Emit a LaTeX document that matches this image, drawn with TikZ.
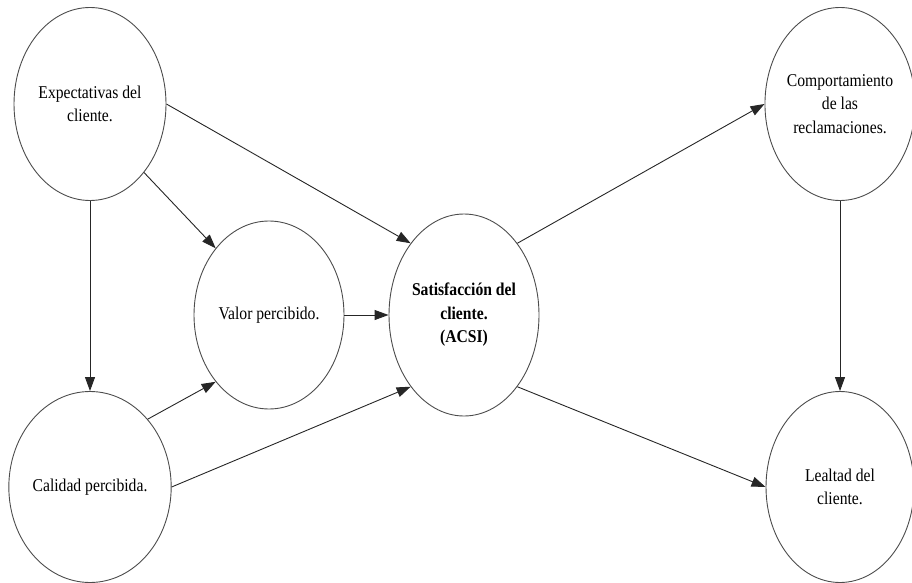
\documentclass[tikz,border=0pt]{standalone}
\usepackage{fontspec}
\setmainfont{Liberation Serif}[FakeStretch=0.87]
\usetikzlibrary{shapes.geometric,arrows.meta}
\tikzset{
  oval/.style={ellipse, draw=black!70, line width=0.9pt, inner sep=0pt, align=center,
    font=\fontsize{18}{23.5}\selectfont},
  conn/.style={draw=black!85, line width=0.9pt, -{Triangle[length=14pt,width=10pt]}}
}
\begin{document}
\begin{tikzpicture}[x=1pt,y=-1pt]
\useasboundingbox (0,0) rectangle (912,583);
\node[oval, minimum width=152pt, minimum height=193pt] (exp) at (90,104) {Expectativas del\\cliente.};
\node[oval, minimum width=152pt, minimum height=191pt] (cal) at (90,487) {Calidad percibida.};
\node[oval, minimum width=150pt, minimum height=188pt] (val) at (269,315) {Valor percibido.};
\node[oval, minimum width=150pt, minimum height=202pt, font=\fontsize{18}{23.5}\selectfont\bfseries] (sat) at (464,315) {Satisfacción del\\cliente.\\(ACSI)};
\node[oval, minimum width=148pt, minimum height=193pt] (com) at (840,104) {Comportamiento\\de las\\reclamaciones.};
\node[oval, minimum width=148pt, minimum height=191pt] (lea) at (840,487) {Lealtad del\\cliente.};
\draw[conn] (exp.south) -- (cal.north);
\draw[conn] (exp.south east) -- (val.north west);
\draw[conn] (exp.east) -- (sat.north west);
\draw[conn] (cal.north east) -- (val.south west);
\draw[conn] (cal.east) -- (sat.south west);
\draw[conn] (val.east) -- (sat.west);
\draw[conn] (sat.north east) -- (com.west);
\draw[conn] (sat.south east) -- (lea.west);
\draw[conn] (com.south) -- (lea.north);
\end{tikzpicture}
\end{document}
